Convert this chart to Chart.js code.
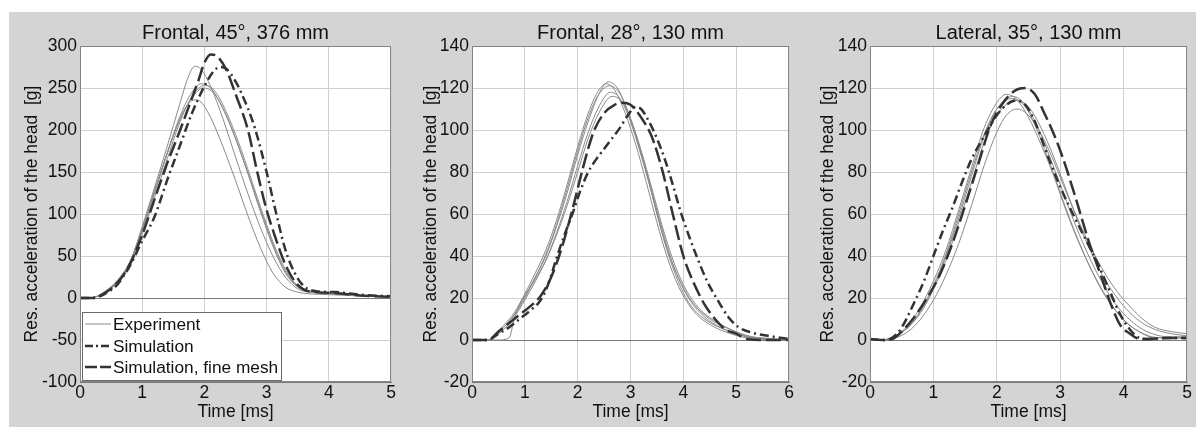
<!DOCTYPE html>
<html>
<head>
<meta charset="utf-8">
<script src="https://cdn.jsdelivr.net/npm/chart.js@4.4.1/dist/chart.umd.min.js"></script>
<style>
  body { margin: 0; background: #fff; }
  #wrap { position: absolute; left: 9px; top: 12px; width: 1187px; height: 415px; background: #d4d4d4; }
  #wrap canvas { position: absolute; top: 0; }
</style>
</head>
<body>
<div id="wrap">
  <canvas id="c1" width="391" height="415" style="left:0"></canvas>
  <canvas id="c2" width="396" height="415" style="left:391px"></canvas>
  <canvas id="c3" width="400" height="415" style="left:787px"></canvas>
</div>
<script>
// ---- data: [time ms, acceleration g] ----
const titles = ['Frontal, 45°, 376 mm', 'Frontal, 28°, 130 mm', 'Lateral, 35°, 130 mm'];
const seriesLabels = ['Experiment', 'Simulation', 'Simulation, fine mesh'];

const xTicks1 = [0, 1, 2, 3, 4, 5];
const xTicks2 = [0, 1, 2, 3, 4, 5, 6];
const xTicks3 = [0, 1, 2, 3, 4, 5];
const yTicks1 = [-100, -50, 0, 50, 100, 150, 200, 250, 300];
const yTicks2 = [-20, 0, 20, 40, 60, 80, 100, 120, 140];
const yTicks3 = [-20, 0, 20, 40, 60, 80, 100, 120, 140];

// panel 1 - Frontal, 45°, 376 mm
const p1Exp1 = [[0,0],[0.2,0.5],[0.4,7],[0.6,20],[0.8,42],[1.0,85],[1.2,132],[1.4,180],[1.6,230],[1.75,265],[1.85,276],[1.95,272],[2.1,252],[2.3,213],[2.5,168],[2.7,124],[2.9,84],[3.1,50],[3.3,25],[3.5,11],[3.7,7],[4,5],[4.5,3],[5,1.5]];
const p1Exp2 = [[0,0],[0.2,0.5],[0.4,7],[0.6,19],[0.8,40],[1.0,80],[1.2,125],[1.4,172],[1.6,215],[1.8,245],[1.95,255],[2.1,250],[2.3,225],[2.5,190],[2.7,148],[2.9,103],[3.1,62],[3.3,30],[3.5,13],[3.7,8],[4,6],[4.5,3],[5,1.5]];
const p1Exp3 = [[0,0],[0.2,0.5],[0.4,6],[0.6,18],[0.8,38],[1.0,76],[1.2,120],[1.4,165],[1.6,208],[1.8,240],[2.0,253],[2.15,248],[2.35,222],[2.55,185],[2.75,142],[2.95,98],[3.15,58],[3.35,28],[3.55,12],[3.75,8],[4.1,6],[4.5,3],[5,1.5]];
const p1Exp4 = [[0,0],[0.2,0.5],[0.4,8],[0.6,21],[0.8,43],[1.0,82],[1.2,128],[1.4,172],[1.6,212],[1.8,238],[1.98,250],[2.15,244],[2.35,218],[2.55,180],[2.75,138],[2.95,95],[3.15,55],[3.35,26],[3.55,11],[3.75,7],[4.1,5],[4.5,3],[5,1.5]];
const p1Exp5 = [[0,0],[0.2,0.5],[0.4,7],[0.6,20],[0.8,42],[1.0,82],[1.2,127],[1.4,172],[1.6,212],[1.75,232],[1.85,236],[1.95,233],[2.1,215],[2.3,180],[2.5,140],[2.7,98],[2.9,60],[3.1,30],[3.3,13],[3.5,7],[3.7,5],[4,4],[4.5,2.5],[5,1.5]];
const p1Sim = [[0,0],[0.2,0],[0.4,5],[0.6,16],[0.8,38],[1.0,68],[1.2,97],[1.4,140],[1.6,180],[1.8,220],[2.0,252],[2.15,270],[2.25,275],[2.35,273],[2.5,258],[2.6,243],[2.8,205],[3.0,150],[3.15,102],[3.3,58],[3.45,30],[3.6,14],[3.8,8],[4.1,7],[4.5,4],[5,2]];
const p1Fine = [[0,0],[0.2,0],[0.4,6],[0.6,18],[0.8,40],[1.0,75],[1.2,118],[1.4,160],[1.6,198],[1.8,238],[1.9,258],[2.0,280],[2.1,290],[2.2,288],[2.35,272],[2.5,243],[2.7,200],[2.85,150],[3.0,105],[3.15,70],[3.3,40],[3.45,20],[3.6,10],[3.8,7],[4.1,6],[4.5,3],[5,1.5]];

// panel 2 - Frontal, 28°, 130 mm
const p2Exp1 = [[0,0],[0.3,0],[0.45,3],[0.6,6],[0.8,12],[1.0,21],[1.2,30],[1.4,40],[1.6,54],[1.8,70],[2.0,88],[2.2,104],[2.4,117],[2.58,123],[2.75,120],[2.9,112],[3.1,97],[3.3,80],[3.5,60],[3.7,42],[3.9,28],[4.1,18],[4.3,12],[4.6,7],[4.9,4],[5.2,1.5],[5.5,0.5],[6,0]];
const p2Exp2 = [[0,0],[0.3,0],[0.45,3],[0.6,7],[0.8,13],[1.0,22],[1.2,32],[1.4,43],[1.6,57],[1.8,74],[2.0,92],[2.2,108],[2.4,119],[2.55,122],[2.7,119],[2.9,108],[3.1,93],[3.3,75],[3.5,56],[3.7,39],[3.9,26],[4.1,17],[4.3,11],[4.6,6],[4.9,3],[5.2,1],[5.5,0.5],[6,0]];
const p2Exp3 = [[0,0],[0.3,0],[0.45,2],[0.6,5],[0.8,11],[1.0,19],[1.2,28],[1.4,38],[1.6,51],[1.8,66],[2.0,83],[2.2,99],[2.4,111],[2.62,118],[2.8,115],[3.0,104],[3.2,88],[3.4,70],[3.6,51],[3.8,36],[4.0,25],[4.2,17],[4.5,10],[4.8,6],[5.1,3],[5.4,1],[6,0]];
const p2Exp4 = [[0,0],[0.3,0],[0.5,0],[0.7,1],[0.8,10],[0.9,17],[1.0,21],[1.2,29],[1.4,38],[1.6,50],[1.8,64],[2.0,80],[2.2,96],[2.4,108],[2.65,116],[2.85,113],[3.05,102],[3.25,86],[3.45,68],[3.65,50],[3.85,35],[4.05,24],[4.3,15],[4.6,9],[4.9,5],[5.2,2],[5.5,1],[6,0]];
const p2Exp5 = [[0,0],[0.3,0],[0.45,2],[0.6,6],[0.8,12],[1.0,20],[1.2,30],[1.4,41],[1.6,55],[1.8,72],[2.0,90],[2.2,106],[2.4,117],[2.6,121],[2.78,118],[2.95,109],[3.15,94],[3.35,76],[3.55,57],[3.75,40],[3.95,27],[4.15,18],[4.4,11],[4.7,6],[5.0,3],[5.3,1],[6,0]];
const p2Sim = [[0,0],[0.3,0],[0.5,3],[0.7,6],[0.9,10],[1.1,14],[1.3,19],[1.45,27],[1.6,39],[1.75,50],[1.9,60],[2.05,71],[2.2,80],[2.35,86],[2.5,91],[2.65,96],[2.8,101],[2.95,107],[3.1,111],[3.2,110],[3.35,104],[3.5,96],[3.65,86],[3.8,74],[3.95,61],[4.1,50],[4.25,40],[4.45,28],[4.65,19],[4.85,11],[5.05,6],[5.3,3.5],[5.6,2],[6,0.5]];
const p2Fine = [[0,0],[0.3,0],[0.5,4],[0.7,8],[0.9,12],[1.1,16],[1.3,21],[1.5,30],[1.7,44],[1.9,62],[2.1,82],[2.3,99],[2.5,108],[2.7,112],[2.85,113],[3.0,112],[3.2,106],[3.4,97],[3.6,81],[3.8,60],[4.0,40],[4.2,27],[4.4,17],[4.6,10],[4.8,5],[5.0,3],[5.2,0.5],[5.6,0],[6,0]];

// panel 3 - Lateral, 35°, 130 mm
const p3Exp1 = [[0,0],[0.2,0],[0.4,2],[0.6,7],[0.8,16],[1.0,28],[1.2,43],[1.4,62],[1.6,82],[1.8,101],[2.0,113],[2.15,117],[2.3,115],[2.5,106],[2.7,93],[2.9,78],[3.1,61],[3.3,46],[3.5,33],[3.7,22],[3.9,13],[4.1,7],[4.3,3],[4.5,1],[4.8,1],[5,1]];
const p3Exp2 = [[0,0],[0.2,0],[0.4,2],[0.6,6],[0.8,14],[1.0,25],[1.2,40],[1.4,58],[1.6,78],[1.8,97],[2.0,110],[2.25,116],[2.45,112],[2.65,101],[2.85,86],[3.05,70],[3.25,54],[3.45,40],[3.65,28],[3.85,18],[4.05,11],[4.25,6],[4.45,3],[4.7,1.5],[5,1.5]];
const p3Exp3 = [[0,0],[0.2,0],[0.4,2],[0.6,6],[0.8,13],[1.0,24],[1.2,38],[1.4,56],[1.6,75],[1.8,94],[2.0,107],[2.3,114],[2.5,111],[2.7,101],[2.9,87],[3.1,71],[3.3,55],[3.5,41],[3.7,29],[3.9,20],[4.1,13],[4.3,8],[4.5,5],[4.75,3],[5,2]];
const p3Exp4 = [[0,0],[0.2,0],[0.4,1],[0.6,4],[0.8,10],[1.0,19],[1.2,31],[1.4,46],[1.6,64],[1.8,83],[2.0,99],[2.15,107],[2.32,110],[2.5,107],[2.7,98],[2.9,85],[3.1,70],[3.3,56],[3.5,43],[3.7,32],[3.9,23],[4.1,16],[4.3,10],[4.5,6],[4.75,4],[5,3]];
const p3Exp5 = [[0,0],[0.2,0],[0.4,2],[0.6,6],[0.8,14],[1.0,26],[1.2,41],[1.4,60],[1.6,80],[1.8,98],[2.0,110],[2.25,115],[2.45,111],[2.65,99],[2.85,83],[3.05,66],[3.25,50],[3.45,36],[3.65,24],[3.85,15],[4.05,8],[4.25,4],[4.45,1.5],[4.7,1],[5,1]];
const p3Sim = [[0,0.5],[0.2,0],[0.35,1],[0.5,6],[0.7,18],[0.85,28],[1.0,40],[1.15,52],[1.3,63],[1.45,75],[1.6,86],[1.8,97],[2.0,107],[2.15,112],[2.3,114],[2.45,112],[2.6,104],[2.8,88],[3.0,73],[3.2,60],[3.4,48],[3.6,36],[3.8,22],[3.95,12],[4.1,5],[4.25,1],[4.4,0.5],[4.7,1],[5,1]];
const p3Fine = [[0,0.5],[0.2,0],[0.35,0.5],[0.5,4],[0.7,11],[0.9,20],[1.1,31],[1.3,46],[1.5,64],[1.7,83],[1.9,102],[2.1,113],[2.3,119],[2.45,120],[2.6,117],[2.75,108],[2.9,98],[3.05,86],[3.25,67],[3.45,47],[3.65,30],[3.8,17],[3.95,7],[4.1,3],[4.25,0.5],[4.4,0.5],[4.7,1],[5,1]];

const FONT = 'Liberation Sans, Arial, sans-serif';
const styles = {
  exp:  { borderColor: '#8a8a8a', borderWidth: 1, borderDash: [] },
  sim:  { borderColor: '#333333', borderWidth: 2.5, borderDash: [9, 4, 2, 4] },
  fine: { borderColor: '#333333', borderWidth: 2.5, borderDash: [15, 5] }
};

function toXY(arr) {
  return arr.map(p => ({ x: p[0], y: p[1] }));
}

function line(label, arr, st, order) {
  return {
    label: label,
    data: toXY(arr),
    borderColor: st.borderColor,
    borderWidth: st.borderWidth,
    borderDash: st.borderDash,
    pointRadius: 0,
    fill: false,
    cubicInterpolationMode: 'monotone',
    order: order
  };
}

// white plot area + frame
const plotFrame = {
  id: 'plotFrame',
  beforeDraw(chart) {
    const a = chart.chartArea, ctx = chart.ctx;
    ctx.save();
    ctx.fillStyle = '#ffffff';
    ctx.fillRect(a.left, a.top, a.right - a.left, a.bottom - a.top);
    ctx.restore();
  },
  afterDraw(chart) {
    const a = chart.chartArea, ctx = chart.ctx;
    ctx.save();
    ctx.strokeStyle = '#858585';
    ctx.lineWidth = 1;
    ctx.strokeRect(Math.round(a.left) + 0.5, Math.round(a.top) + 0.5,
      Math.round(a.right - a.left) - 1, Math.round(a.bottom - a.top) - 1);
    ctx.restore();
  }
};

// legend box in the lower left corner of the first panel
const boxLegend = {
  id: 'boxLegend',
  afterDraw(chart, args, opts) {
    if (!opts.show) return;
    const a = chart.chartArea, ctx = chart.ctx;
    const w = 199, h = 68;
    const x0 = a.left + 2, y0 = a.bottom - 2 - h;
    ctx.save();
    ctx.fillStyle = '#fff';
    ctx.fillRect(x0, y0, w, h);
    ctx.strokeStyle = '#6a6a6a';
    ctx.lineWidth = 1;
    ctx.strokeRect(x0 + 0.5, y0 + 0.5, w, h);
    const rows = [12, 34, 55];
    const st = [styles.exp, styles.sim, styles.fine];
    ctx.font = '17.3px ' + FONT;
    ctx.textBaseline = 'middle';
    seriesLabels.forEach((lab, i) => {
      const y = y0 + rows[i];
      ctx.strokeStyle = st[i].borderColor;
      ctx.lineWidth = st[i].borderWidth;
      ctx.setLineDash(i === 1 ? [8, 3, 2, 3] : (i === 2 ? [12, 3] : []));
      ctx.beginPath();
      ctx.moveTo(x0 + 3, y);
      ctx.lineTo(x0 + 29, y);
      ctx.stroke();
      ctx.setLineDash([]);
      ctx.fillStyle = '#111';
      ctx.fillText(lab, x0 + 31, y + 1);
    });
    ctx.restore();
  }
};

function makeChart(id, title, exps, sim, fine, xTicks, yTicks, lay, showLegend) {
  const datasets = [line(seriesLabels[1], sim, styles.sim, 0), line(seriesLabels[2], fine, styles.fine, 0)];
  exps.forEach((e, i) => datasets.push(line(seriesLabels[0] + ' ' + (i + 1), e, styles.exp, 1)));
  return new Chart(document.getElementById(id), {
    type: 'line',
    data: { datasets: datasets },
    plugins: [plotFrame, boxLegend],
    options: {
      responsive: false,
      animation: false,
      layout: { padding: { left: 0, right: lay.padRight, top: 0, bottom: 0 } },
      plugins: {
        legend: { display: false },
        tooltip: { enabled: false },
        title: {
          display: true,
          text: title,
          fullSize: false,
          color: '#111',
          font: { family: FONT, size: 20, weight: 'normal', lineHeight: 1.2 },
          padding: { top: 9, bottom: 1 }
        },
        boxLegend: { show: showLegend }
      },
      scales: {
        x: {
          type: 'linear',
          min: xTicks[0],
          max: xTicks[xTicks.length - 1],
          afterBuildTicks: s => { s.ticks = xTicks.map(v => ({ value: v })); },
          afterFit: s => { s.height = 45; },
          grid: { color: '#cfcfcf', lineWidth: 1, drawTicks: false },
          border: { color: '#7a7a7a', width: 1 },
          ticks: { color: '#111', padding: 1, maxRotation: 0, font: { family: FONT, size: 17.5 } },
          title: {
            display: true,
            text: 'Time [ms]',
            color: '#111',
            font: { family: FONT, size: 17.5, lineHeight: 1.2 },
            padding: { top: 0, bottom: 4.5 }
          }
        },
        y: {
          min: yTicks[0],
          max: yTicks[yTicks.length - 1],
          afterBuildTicks: s => { s.ticks = yTicks.map(v => ({ value: v })); },
          afterFit: s => { s.width = lay.yWidth; },
          grid: {
            color: c => (c.tick && c.tick.value === 0) ? '#7a7a7a' : '#cfcfcf',
            lineWidth: 1,
            drawTicks: false
          },
          border: { color: '#7a7a7a', width: 1 },
          ticks: { color: '#111', padding: 3, font: { family: FONT, size: 17.5 } },
          title: {
            display: true,
            text: 'Res. acceleration of the head  [g]',
            color: '#111',
            font: { family: FONT, size: 17.5, lineHeight: 1.2 },
            padding: { top: lay.yTitlePad, bottom: 0 }
          }
        }
      }
    }
  });
}

makeChart('c1', titles[0], [p1Exp1, p1Exp2, p1Exp3, p1Exp4, p1Exp5], p1Sim, p1Fine,
  xTicks1, yTicks1, { yWidth: 71, padRight: 9, yTitlePad: 12.5 }, true);
makeChart('c2', titles[1], [p2Exp1, p2Exp2, p2Exp3, p2Exp4, p2Exp5], p2Sim, p2Fine,
  xTicks2, yTicks2, { yWidth: 72, padRight: 7, yTitlePad: 20.5 }, false);
makeChart('c3', titles[2], [p3Exp1, p3Exp2, p3Exp3, p3Exp4, p3Exp5], p3Sim, p3Fine,
  xTicks3, yTicks3, { yWidth: 74, padRight: 9, yTitlePad: 22 }, false);
</script>
</body>
</html>
